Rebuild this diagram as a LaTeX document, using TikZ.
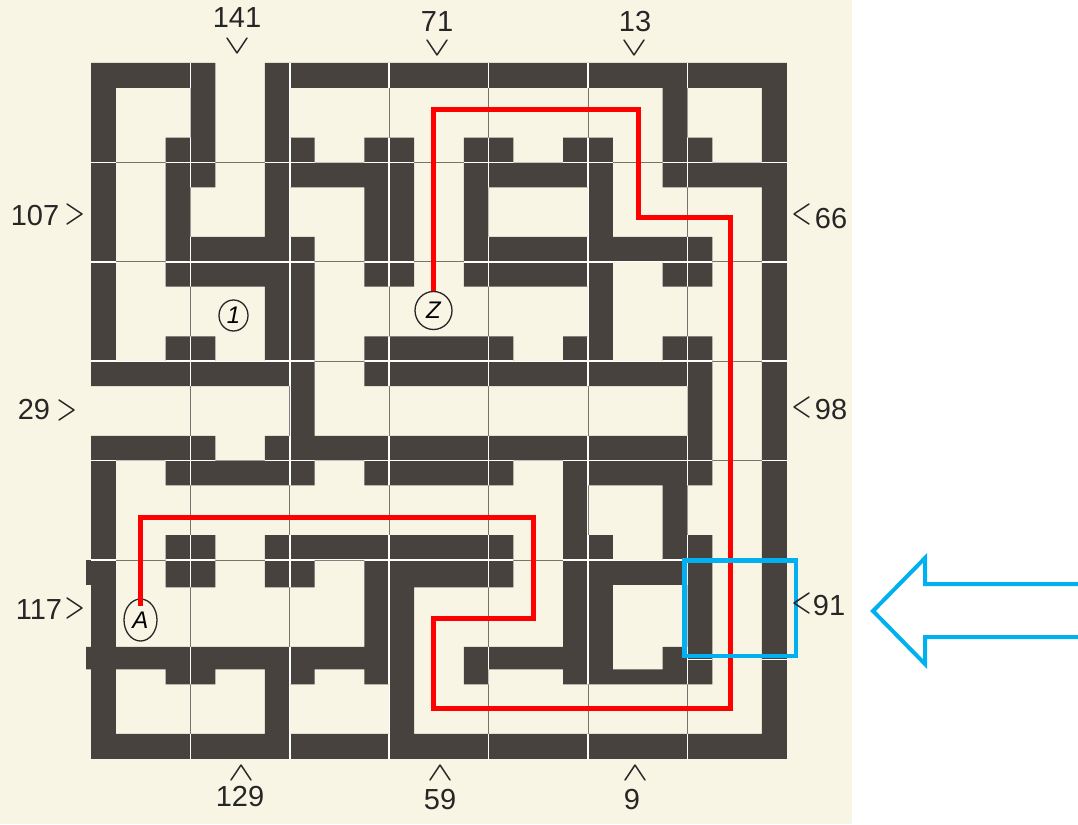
\documentclass[tikz,border=0pt]{standalone}
\usepackage{fontspec}
\usetikzlibrary{shapes.geometric}
\newfontfamily\handfont{Liberation Sans}
\definecolor{ink}{RGB}{71,66,62}
\definecolor{paper}{RGB}{249,245,229}
\definecolor{gridgray}{RGB}{120,115,108}
\definecolor{pathred}{RGB}{255,0,0}
\definecolor{markblue}{RGB}{0,176,240}
\def\mazelist{0/5/0/1, 7/28/0/1,
 0/1/1/3, 4/5/1/3, 7/8/1/3, 23/24/1/3, 27/28/1/3,
 0/1/3/4, 3/5/3/4, 7/9/3/4, 11/13/3/4, 15/17/3/4, 19/21/3/4, 23/25/3/4, 27/28/3/4,
 0/1/4/5, 3/5/4/5, 7/13/4/5, 15/21/4/5, 23/28/4/5,
 0/1/5/7, 3/4/5/7, 7/8/5/7, 11/13/5/7, 15/16/5/7, 20/21/5/7, 27/28/5/7,
 0/1/7/8, 3/9/7/8, 11/13/7/8, 15/25/7/8, 27/28/7/8,
 0/1/8/9, 3/9/8/9, 11/13/8/9, 15/21/8/9, 23/25/8/9, 27/28/8/9,
 0/1/9/11, 7/9/9/11, 20/21/9/11, 27/28/9/11,
 0/1/11/12, 3/5/11/12, 7/9/11/12, 11/17/11/12, 19/21/11/12, 23/25/11/12, 27/28/11/12,
 0/9/12/13, 11/25/12/13, 27/28/12/13,
 8/9/13/15, 24/25/13/15, 27/28/13/15,
 0/5/15/16, 7/25/15/16, 27/28/15/16,
 0/1/16/17, 3/9/16/17, 11/17/16/17, 19/25/16/17, 27/28/16/17,
 0/1/17/19, 19/20/17/19, 23/24/17/19, 27/28/17/19,
 0/1/19/20, 3/5/19/20, 7/17/19/20, 19/21/19/20, 23/25/19/20, 27/28/19/20,
 0/1/20/21, 3/5/20/21.1, 7/9/20/21.1, 11/17/20/21.1, 19/25/20/21, 27/28/20/21,
 0/1/21/28, 11/12/21/25, 12/13/21/28, 19/21/21/25, 21/23/24.4/25, 23/24/23.5/25,
 24/25/21/25, 27/28/21/28, 0/28/27/28, 1/11/23.5/24.4, 3/5/24.4/25, 7/8/24.4/27,
 8/9/24.4/25, 15/19/23.5/24.4, 15/16/24.4/25, -0.2/0/20/21, -0.2/0/23.5/24.4}
\begin{document}
\begin{tikzpicture}[x=1pt,y=-1pt,
  lab/.style={font=\handfont\fontsize{29}{29}\selectfont, inner sep=0pt, text=black!85},
  chev/.style={draw=black!85, line width=1.5pt, line join=round, line cap=round},
  circ/.style={draw=black!85, ellipse, line width=1.3pt, inner sep=0pt, font=\handfont\fontsize{24}{24}\selectfont\itshape},
  redpath/.style={draw=pathred, line width=5pt, line join=miter},
  bluebox/.style={draw=markblue, line width=4.5pt},
  ]
\useasboundingbox (0,0) rectangle (1078,824);
\fill[white] (0,0) rectangle (1078,824);
\fill[paper] (0,0) rectangle (852,824);
\begin{scope}[shift={(91,63)}, x=24.85pt, y=-24.85pt]
  \foreach \k in {4,8,...,24} \draw[gridgray, line width=0.8pt] (\k,0) -- (\k,28);
  \foreach \k in {4,8,...,20} \draw[gridgray, line width=0.8pt] (0,\k) -- (28,\k);
  \fill[ink] \foreach \a/\b/\c/\d in \mazelist {(\a,\c) rectangle (\b,\d)};
  \begin{scope}
    \clip \foreach \a/\b/\c/\d in \mazelist {(\a,\c) rectangle (\b,\d)};
    \foreach \k in {4,8,...,24} \draw[white, line width=1.5pt] (\k,0) -- (\k,28);
    \foreach \k in {4,8,...,20} \draw[white, line width=1.5pt] (0,\k) -- (28,\k);
    \draw[white, line width=1.5pt] (24,24) -- (28,24);
  \end{scope}
\end{scope}
% circled marks
\node[circ, minimum width=29pt, minimum height=31pt] (one) at (233.5,315.5) {1};
\node[circ, minimum width=37pt, minimum height=38pt] (Z) at (433.5,310.5) {Z};
\node[circ, minimum width=33pt, minimum height=42pt] (A) at (140.5,620) {A};
% red solution path
\draw[redpath] (Z.north) |- (638,109.5) |- (730,217.5) |- (433.5,708.5) |- (533,618) |- (140.5,517) -- ([yshift=-8pt]A.north);
% blue highlight
\draw[bluebox] (684.5,560.5) rectangle (796,656);
\draw[markblue, line width=4pt, line join=miter] (1082,584) -- (925,584) -- (925,558) -- (873,611) -- (925,664) -- (925,637) -- (1082,637);
% labels
\node[lab] (n141) at (237,18) {141};
\node[lab] (n71) at (437,22) {71};
\node[lab] (n13) at (635,22) {13};
\node[lab] (n107) at (35,216) {107};
\node[lab] (n29) at (34,410) {29};
\node[lab] (n117) at (39,610) {117};
\node[lab] (n66) at (831,219) {66};
\node[lab] (n98) at (831,410) {98};
\node[lab] (n91) at (829,606) {91};
\node[lab] (n129) at (240,797) {129};
\node[lab] (n59) at (440,800) {59};
\node[lab] (n9) at (632,800) {9};
% chevrons
\draw[chev] (227,38) -- (237,53) -- (247,38);
\draw[chev] (427,40) -- (437,55) -- (447,40);
\draw[chev] (624,40) -- (634,55) -- (644,40);
\draw[chev] (67,204) -- (82,214) -- (67,224);
\draw[chev] (59,400) -- (74,410) -- (59,420);
\draw[chev] (67,598) -- (82,608) -- (67,618);
\draw[chev] (809,204) -- (794,214) -- (809,224);
\draw[chev] (809,397) -- (794,407) -- (809,417);
\draw[chev] (809,593) -- (794,603) -- (809,613);
\draw[chev] (231,780) -- (241,765) -- (251,780);
\draw[chev] (430,780) -- (440,765) -- (450,780);
\draw[chev] (625,780) -- (635,765) -- (645,780);
\end{tikzpicture}
\end{document}
